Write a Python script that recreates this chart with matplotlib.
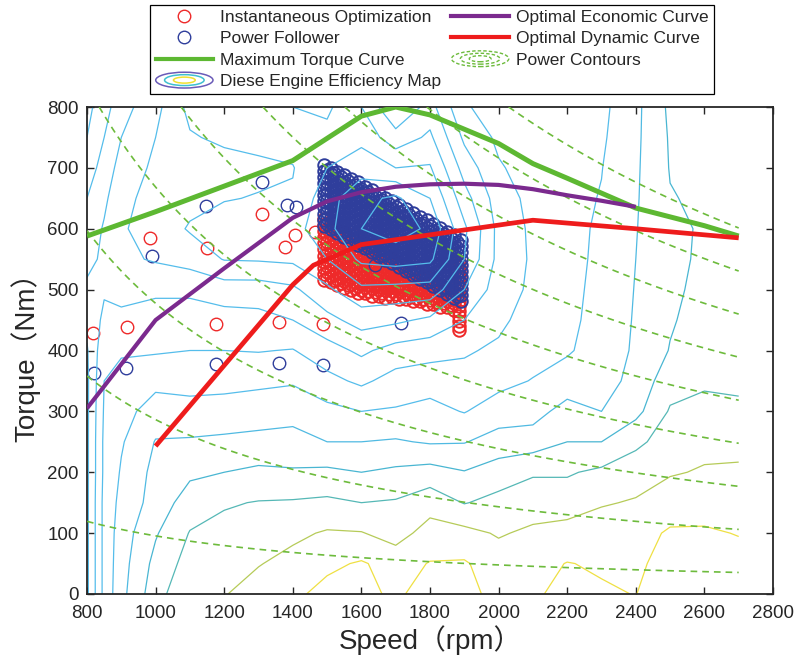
import numpy as np
import matplotlib
matplotlib.use("Agg")
import matplotlib.pyplot as plt
from matplotlib.lines import Line2D
from matplotlib.patches import Ellipse, Patch
from matplotlib.legend_handler import HandlerBase

plt.rcParams["font.family"] = ["Liberation Sans", "Noto Sans CJK SC", "DejaVu Sans"]
plt.rcParams["lines.dashed_pattern"] = [4.0, 3.0]

# ---------------- engine efficiency map (grade table per speed, rows = torque) ----------------
map_speed = [800, 850, 900, 1000, 1100, 1200, 1300, 1400, 1500, 1600, 1700,
             1800, 1900, 2000, 2100, 2200, 2300, 2400, 2500, 2600, 2700]
map_torque = [0, 50, 100, 150, 200, 250, 300, 350, 400, 450, 500, 550, 600, 650, 700, 750, 800]
map_columns = {
    800:  [5.8, 5.8, 5.8, 5.8, 5.8, 5.8, 5.8, 5.8, 5.9, 6.3, 6.8, 7.3, 7.6, 8.0, 8.5, 9.0, 9.3],
    850:  [8.3, 8.3, 8.3, 8.3, 8.2, 8.2, 8.1, 8.0, 7.7, 7.2, 6.9, 6.8, 6.9, 7.2, 7.6, 8.0, 8.4],
    900:  [9.7, 9.6, 9.5, 9.3, 9.1, 8.9, 8.6, 8.3, 7.9, 7.3, 6.6, 6.2, 6.1, 6.3, 6.6, 7.0, 7.4],
    1000: [11.6, 11.3, 10.9, 10.4, 10.3, 10.05, 9.5, 8.7, 7.9, 7.5, 6.8, 5.9, 5.6, 5.6, 5.8, 6.0, 6.3],
    1100: [12.85, 12.4, 12.05, 11.5, 10.8, 10.1, 9.4, 8.6, 8.0, 7.5, 6.8, 5.6, 4.9, 5.3, 5.6, 5.1, 4.7],
    1200: [12.95, 12.6, 12.3, 11.9, 11.0, 10.2, 9.4, 8.7, 8.0, 7.4, 6.5, 4.95, 4.6, 5.05, 5.4, 4.8, 4.5],
    1300: [13.4, 12.95, 12.5, 12.05, 11.2, 10.3, 9.5, 8.8, 7.95, 7.3, 6.5, 4.9, 4.5, 4.95, 5.2, 4.7, 4.4],
    1400: [13.8, 13.3, 12.8, 12.1, 11.1, 10.4, 9.6, 8.9, 8.05, 7.0, 6.2, 4.8, 4.4, 4.9, 5.05, 4.6, 4.0],
    1500: [14.3, 13.8, 13.1, 12.2, 11.2, 10.0, 9.3, 8.3, 7.4, 6.3, 5.2, 4.0, 3.3, 3.4, 4.0, 4.3, 3.8],
    1600: [14.15, 14.1, 13.05, 12.0, 11.0, 10.0, 9.0, 7.8, 6.8, 5.6, 4.2, 2.8, 2.0, 2.3, 3.4, 4.3, 5.0],
    1700: [13.9, 13.6, 12.6, 12.1, 11.2, 10.1, 9.1, 8.4, 7.4, 5.8, 4.3, 2.6, 1.5, 1.8, 4.0, 5.6, 7.0],
    1800: [14.25, 14.05, 13.4, 12.6, 11.4, 9.9, 9.3, 8.6, 7.6, 6.2, 4.4, 2.8, 2.2, 3.0, 3.9, 4.8, 5.6],
    1900: [14.2, 14.1, 13.3, 11.95, 11.05, 9.95, 8.95, 8.3, 7.9, 7.0, 6.0, 5.0, 4.8, 5.6, 6.4, 7.2, 7.9],
    2000: [13.8, 13.5, 12.9, 12.3, 11.5, 10.4, 9.5, 8.7, 8.15, 7.8, 7.5, 7.3, 7.3, 7.5, 7.9, 8.2, 8.4],
    2100: [13.9, 13.7, 13.2, 12.5, 11.9, 10.5, 9.6, 9.05, 8.6, 8.4, 8.2, 8.15, 8.2, 8.3, 8.4, 8.5, 8.6],
    2200: [14.2, 14.03, 13.4, 12.5, 11.9, 11.0, 10.4, 9.4, 8.9, 8.8, 8.75, 8.7, 8.7, 8.7, 8.7, 8.7, 8.7],
    2300: [14.1, 13.9, 13.6, 12.9, 12.2, 11.0, 10.0, 9.6, 9.4, 9.3, 9.25, 9.2, 9.15, 9.05, 8.97, 8.85, 8.75],
    2400: [13.98, 13.85, 13.7, 13.1, 12.5, 11.8, 10.7, 10.3, 10.15, 10.1, 10.05, 10.0, 9.95, 9.9, 9.85, 9.8, 9.75],
    2500: [14.6, 14.3, 14.1, 13.6, 12.9, 12.4, 12.1, 11.6, 11.05, 10.9, 10.85, 10.85, 10.9, 10.95, 11.05, 11.1, 11.2],
    2600: [14.6, 14.4, 14.15, 13.5, 13.1, 12.7, 12.2, 11.9, 11.7, 11.4, 11.2, 11.1, 11.05, 11.15, 11.3, 11.4, 11.5],
    2700: [14.5, 14.4, 13.95, 13.6, 13.1, 12.8, 12.1, 11.9, 11.85, 11.8, 11.7, 11.6, 11.6, 11.65, 11.7, 11.8, 11.9],
}
map_levels = [1, 2, 3, 4, 5, 6, 7, 8, 9, 10, 11, 12, 13, 14]
map_colors = ["#55BDEB"] * 9 + ["#50BAE2", "#49B6D2", "#55B8B6", "#B6CB58", "#EFE043"]

# ---------------- power contours (kW) ----------------
power_levels_kw = [10, 30, 50, 70, 90, 110, 130, 150, 170]

# ---------------- characteristic curves ----------------
max_torque_speed = [800, 1000, 1200, 1400, 1600, 1700, 1800, 2000, 2100, 2200, 2400, 2600, 2700]
max_torque = [588, 628, 670, 712, 785, 800, 787, 740, 707, 683, 634, 605, 588]

econ_speed = [800, 1000, 1200, 1400, 1500, 1600, 1700, 1800, 1900, 2000, 2100, 2200, 2300, 2400]
econ_torque = [305, 450, 535, 618, 645, 660, 669, 673, 674, 672, 665, 655, 646, 636]

dyn_speed = [1000, 1400, 1460, 1600, 2100, 2400, 2700]
dyn_torque = [243, 508, 540, 574, 614, 600, 585]

# ---------------- operating points ----------------
# Instantaneous optimization: dense band (speed -> torques) plus scattered points
io_cluster = {
    1490: [516, 526, 536, 546, 556, 566, 576, 586, 596, 606, 616],
    1500: [519, 529, 539, 549, 559, 569, 579, 589, 599, 609],
    1510: [512, 522, 532, 542, 552, 562, 572, 582, 592, 602, 610],
    1520: [515, 525, 535, 545, 555, 565, 575, 585, 595, 605],
    1530: [508, 518, 528, 538, 548, 558, 568, 578, 588, 598],
    1540: [511, 521, 531, 541, 551, 561, 571, 581, 591],
    1550: [503, 514, 524, 534, 544, 554, 564, 574, 584, 594],
    1560: [507, 517, 527, 537, 547, 557, 567, 577, 587],
    1570: [500, 510, 520, 530, 540, 550, 560, 570, 580, 590],
    1580: [503, 513, 523, 533, 543, 553, 563, 573, 582],
    1590: [494, 506, 516, 526, 536, 546, 556, 566, 576, 584],
    1600: [500, 510, 520, 530, 540, 550, 560, 570, 578],
    1610: [494, 504, 514, 524, 534, 544, 554, 564, 576],
    1620: [498, 508, 518, 528, 538, 548, 558, 568],
    1630: [490, 502, 512, 522, 532, 542, 552, 562, 570],
    1640: [496, 506, 516, 526, 536, 546, 556, 566],
    1650: [490, 500, 510, 520, 530, 540, 550, 562],
    1660: [494, 504, 514, 524, 534, 544, 554],
    1670: [486, 499, 509, 519, 529, 539, 549, 557],
    1680: [493, 503, 513, 523, 533, 543, 553],
    1690: [488, 498, 508, 518, 528, 538, 550],
    1700: [492, 502, 512, 522, 532, 542],
    1710: [484, 497, 507, 517, 527, 537, 545],
    1720: [490, 500, 510, 520, 530, 540],
    1730: [485, 495, 505, 515, 525, 538],
    1740: [489, 499, 509, 519, 529],
    1750: [481, 493, 503, 513, 523, 532],
    1760: [487, 497, 507, 517, 527],
    1770: [481, 491, 501, 511, 526],
    1780: [485, 495, 505, 515, 522],
    1790: [477, 489, 499, 509, 520],
    1800: [483, 493, 503, 512],
    1810: [477, 487, 497, 507, 514],
    1820: [480, 490, 500, 508],
    1830: [472, 484, 494, 508],
    1840: [478, 488, 498],
    1850: [472, 482, 492, 502],
    1860: [475, 485, 495],
    1870: [466, 478, 488, 496],
    1885: [433, 441, 449, 457, 465, 473, 481, 489, 497, 505, 513, 521, 529, 537, 545],
}
io_extra_speed = [818, 916, 984, 1149, 1176, 1309, 1361, 1377, 1406, 1465, 1489]
io_extra_torque = [428, 438, 584, 568, 444, 625, 447, 570, 590, 595, 443]

# Power follower: dense band (speed -> torques) plus scattered points
pf_cluster = {
    1490: [605, 615, 625, 635, 645, 655, 665, 675, 685, 695, 705],
    1500: [607, 617, 627, 637, 647, 657, 667, 677, 687, 697],
    1510: [600, 610, 620, 630, 640, 650, 660, 670, 680, 690, 700],
    1520: [601, 611, 621, 631, 641, 651, 661, 671, 681, 691],
    1530: [593, 603, 613, 623, 633, 643, 653, 663, 673, 683, 694],
    1540: [595, 605, 615, 625, 635, 645, 655, 665, 675, 685],
    1550: [586, 596, 606, 616, 626, 636, 646, 656, 666, 676, 688],
    1560: [588, 598, 608, 618, 628, 638, 648, 658, 668, 678],
    1570: [580, 590, 600, 610, 620, 630, 640, 650, 660, 670, 681],
    1580: [582, 592, 602, 612, 622, 632, 642, 652, 662, 672],
    1590: [574, 584, 594, 604, 614, 624, 634, 644, 654, 664, 676],
    1600: [576, 586, 596, 606, 616, 626, 636, 646, 656, 666],
    1610: [568, 578, 588, 598, 608, 618, 628, 638, 648, 658, 669],
    1620: [570, 580, 590, 600, 610, 620, 630, 640, 650, 660],
    1630: [562, 572, 582, 592, 602, 612, 622, 632, 642, 652, 664],
    1640: [564, 574, 584, 594, 604, 614, 624, 634, 644, 654],
    1650: [555, 565, 575, 585, 595, 605, 615, 625, 635, 645, 657],
    1660: [557, 567, 577, 587, 597, 607, 617, 627, 637, 647],
    1670: [549, 559, 569, 579, 589, 599, 609, 619, 629, 639, 651],
    1680: [551, 561, 571, 581, 591, 601, 611, 621, 631, 641],
    1690: [543, 553, 563, 573, 583, 593, 603, 613, 623, 633, 645],
    1700: [545, 555, 565, 575, 585, 595, 605, 615, 625, 635],
    1710: [537, 547, 557, 567, 577, 587, 597, 607, 617, 627, 639],
    1720: [539, 549, 559, 569, 579, 589, 599, 609, 619, 629],
    1730: [531, 541, 551, 561, 571, 581, 591, 601, 611, 621, 633],
    1740: [533, 543, 553, 563, 573, 583, 593, 603, 613, 623],
    1750: [524, 534, 544, 554, 564, 574, 584, 594, 604, 614, 626],
    1760: [526, 536, 546, 556, 566, 576, 586, 596, 606, 616],
    1770: [518, 528, 538, 548, 558, 568, 578, 588, 598, 608, 620],
    1780: [520, 530, 540, 550, 560, 570, 580, 590, 600, 610],
    1790: [512, 522, 532, 542, 552, 562, 572, 582, 592, 602, 614],
    1800: [514, 524, 534, 544, 554, 564, 574, 584, 594, 604],
    1810: [506, 516, 526, 536, 546, 556, 566, 576, 586, 596, 607],
    1820: [508, 518, 528, 538, 548, 558, 568, 578, 588, 598],
    1830: [500, 510, 520, 530, 540, 550, 560, 570, 580, 590, 601],
    1840: [502, 512, 522, 532, 542, 552, 562, 572, 582, 592],
    1850: [493, 503, 513, 523, 533, 543, 553, 563, 573, 583, 595],
    1860: [495, 505, 515, 525, 535, 545, 555, 565, 575, 585],
    1870: [487, 497, 507, 517, 527, 537, 547, 557, 567, 577, 589],
    1880: [489, 499, 509, 519, 529, 539, 549, 559, 569, 579],
    1890: [481, 491, 501, 511, 521, 531, 541, 551, 561, 571, 582],
}
pf_extra_speed = [820, 914, 990, 1147, 1176, 1309, 1361, 1382, 1408, 1489, 1640, 1714]
pf_extra_torque = [363, 372, 555, 638, 378, 676, 380, 639, 636, 376, 540, 445]

legend_labels = ["Instantaneous Optimization", "Power Follower", "Maximum Torque Curve",
                 "Diese Engine Efficiency Map", "Optimal Economic Curve",
                 "Optimal Dynamic Curve", "Power Contours"]

# ---------------- styling ----------------
C_IO = "#EE2A2A"
C_PF = "#2F3E9C"
C_MAXT = "#5DB832"
C_ECON = "#7B2A8E"
C_DYN = "#EE1C1C"
C_POWER = "#6DBB3C"
C_AXIS = "#262626"


class ContourIconHandler(HandlerBase):
    """Legend icon made of nested ellipses, as used for contour plots."""

    def __init__(self, colors, linestyle="-", lw=1.0):
        super().__init__()
        self.colors = colors
        self.linestyle = linestyle
        self.lw = lw

    def create_artists(self, legend, orig_handle, xdescent, ydescent, width, height,
                       fontsize, trans):
        cx = width / 2 - xdescent
        cy = height / 2 - ydescent
        arts = []
        n = len(self.colors)
        for i, c in enumerate(self.colors):
            f = 1.0 - i * (0.62 / max(n - 1, 1))
            e = Ellipse((cx, cy), width * f, height * 1.3 * f, fill=False,
                        edgecolor=c, lw=self.lw, linestyle=self.linestyle, transform=trans)
            arts.append(e)
        return arts


def band_points(cluster):
    xs = [s for s, ts in cluster.items() for _ in ts]
    ys = [t for ts in cluster.values() for t in ts]
    return xs, ys


fig = plt.figure(figsize=(8.06, 6.61), dpi=100)
ax = fig.add_axes([87 / 806, 1 - 594 / 661, (773 - 87) / 806, (594 - 107) / 661])

# operating points: dense bands drawn with heavier rings, isolated points lighter
io_bx, io_by = band_points(io_cluster)
pf_bx, pf_by = band_points(pf_cluster)
ax.plot(io_bx, io_by, ls="none", marker="o", ms=9, mfc="none", mec=C_IO, mew=1.4, zorder=1)
ax.plot(io_extra_speed, io_extra_torque, ls="none", marker="o", ms=9, mfc="none",
        mec=C_IO, mew=1.0, zorder=1)
ax.plot(pf_bx, pf_by, ls="none", marker="o", ms=9, mfc="none", mec=C_PF, mew=1.4, zorder=1.1)
ax.plot(pf_extra_speed, pf_extra_torque, ls="none", marker="o", ms=9, mfc="none",
        mec=C_PF, mew=1.0, zorder=1.1)

# efficiency map
grade = np.array([map_columns[s] for s in map_speed]).T
ax.contour(map_speed, map_torque, grade, levels=map_levels, colors=map_colors,
           linewidths=0.9, zorder=2)

# constant power lines
sg, tg = np.meshgrid(np.linspace(800, 2700, 300), np.linspace(0, 800, 300))
ax.contour(sg, tg, sg * tg / 9550.0, levels=power_levels_kw, colors=C_POWER,
           linewidths=1.2, linestyles="dashed", zorder=3)

# curves
ax.plot(max_torque_speed, max_torque, color=C_MAXT, lw=3.6, zorder=4, solid_capstyle="butt")
ax.plot(econ_speed, econ_torque, color=C_ECON, lw=3.0, zorder=4.1, solid_capstyle="butt")
ax.plot(dyn_speed, dyn_torque, color=C_DYN, lw=3.4, zorder=4.2, solid_capstyle="butt")

ax.set_xlim(800, 2800)
ax.set_ylim(0, 800)
ax.set_xticks(range(800, 2801, 200))
ax.set_yticks(range(0, 801, 100))
ax.tick_params(direction="in", top=True, right=True, length=5, width=1.0,
               labelsize=13.5, colors=C_AXIS)
ax.tick_params(axis="x", pad=8)
ax.tick_params(axis="y", pad=6)
for sp in ax.spines.values():
    sp.set_color(C_AXIS)
    sp.set_linewidth(1.3)
ax.set_xlabel("Speed（rpm）", fontsize=20, color=C_AXIS, labelpad=2)
ax.set_ylabel("Torque（Nm）", fontsize=20, color=C_AXIS, labelpad=5)

# legend
h_io = Line2D([], [], ls="none", marker="o", ms=9, mfc="none", mec=C_IO, mew=1.0)
h_pf = Line2D([], [], ls="none", marker="o", ms=9, mfc="none", mec=C_PF, mew=1.0)
h_maxt = Line2D([], [], color=C_MAXT, lw=3.0)
h_map = Patch()
h_econ = Line2D([], [], color=C_ECON, lw=3.0)
h_dyn = Line2D([], [], color=C_DYN, lw=3.0)
h_pow = Patch()
leg = fig.legend(
    [h_io, h_pf, h_maxt, h_map, h_econ, h_dyn, h_pow], legend_labels,
    ncol=2, loc="upper center", bbox_to_anchor=(0.536, 0.993),
    frameon=True, fancybox=False, edgecolor="black", framealpha=1.0,
    fontsize=12.5, handlelength=3.3, handletextpad=0.4, columnspacing=0.6,
    labelspacing=0.36, borderpad=0.3, borderaxespad=0.0,
    handler_map={
        h_map: ContourIconHandler(["#6A5BB8", "#3FC0D0", "#F0E030"], "-", 1.1),
        h_pow: ContourIconHandler(["#6DBB3C", "#6DBB3C", "#6DBB3C"], (0, (2.5, 1.5)), 1.0),
    },
)
leg.get_frame().set_linewidth(0.9)
for t in leg.get_texts():
    t.set_color(C_AXIS)

fig.savefig("out.png", dpi=100)
